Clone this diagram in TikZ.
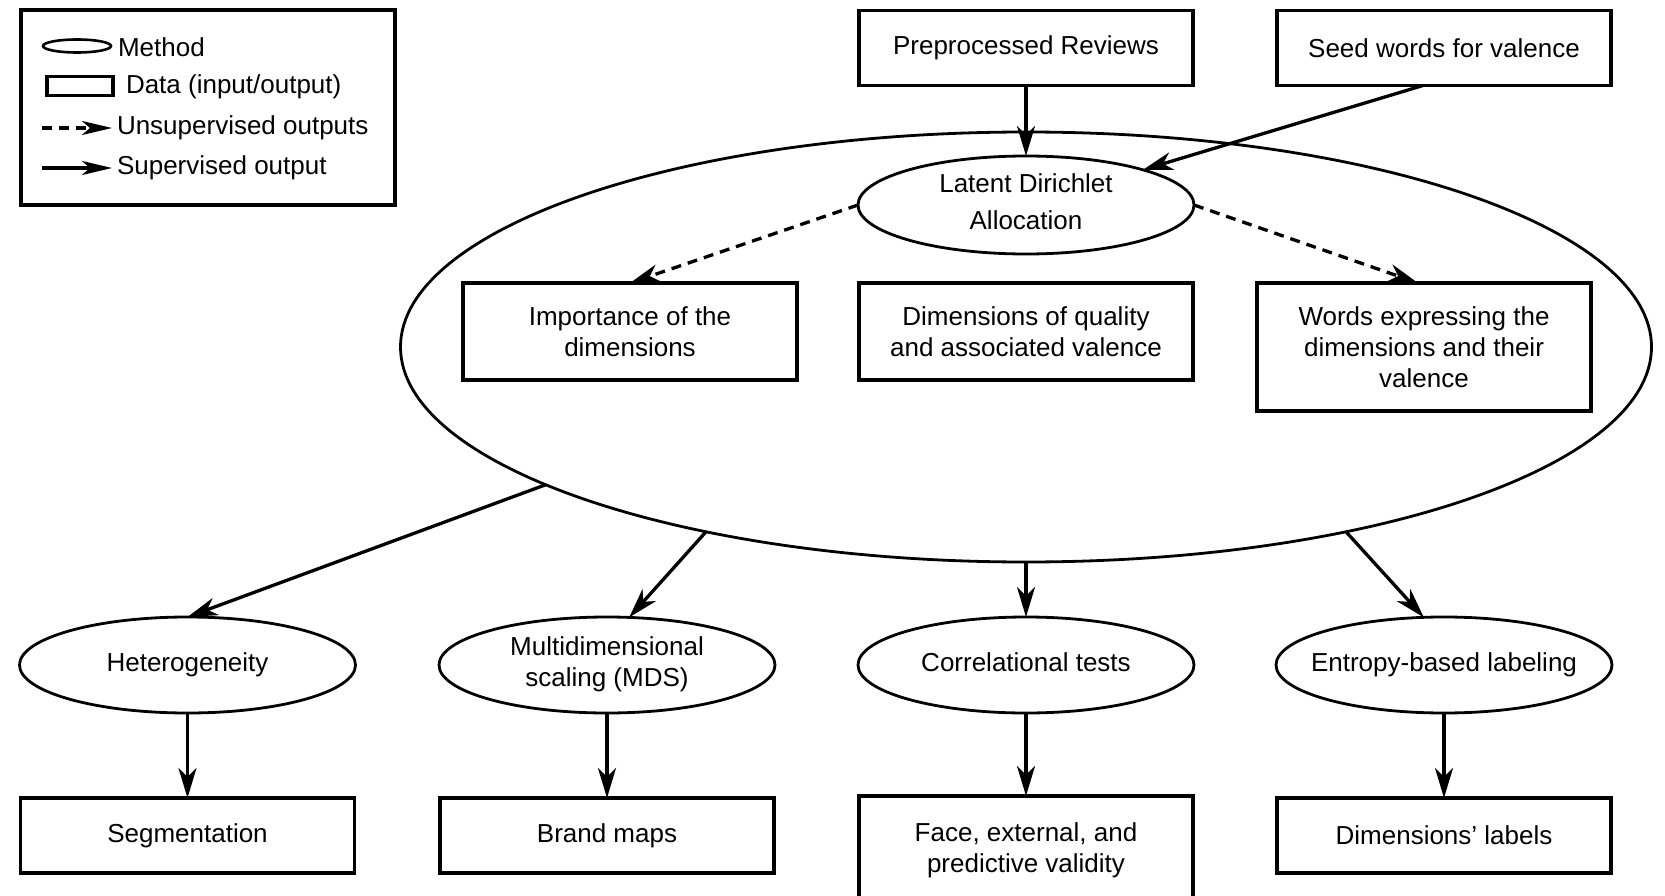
\documentclass[tikz,border=0pt]{standalone}
\usepackage{fontspec}
\setmainfont{Liberation Sans}
\usetikzlibrary{shapes.geometric,arrows.meta}
\newcommand{\ztxt}[1]{\makebox[0pt][c]{\begin{tabular}{@{}c@{}}#1\end{tabular}}}
\begin{document}
\begin{tikzpicture}[x=1pt,y=-1pt,
  every node/.style={font=\fontsize{26}{31}\selectfont, inner sep=0pt, outer sep=0pt},
  databox/.style={draw, line width=3.8pt, rectangle, minimum width=334pt, align=center},
  meth/.style={draw, line width=2.8pt, ellipse, minimum width=336pt, minimum height=96pt},
  sup/.style={line width=3.3pt, -{Stealth[length=30pt,width=18pt,inset=9pt]}},
  unsup/.style={sup, dash pattern=on 10pt off 7pt},
  legtext/.style={anchor=west},
]
\useasboundingbox (0,0) rectangle (1665,896);
\clip (0,0) rectangle (1665,896);

% big ellipse
\node[draw, line width=2.8pt, ellipse, minimum width=1251pt, minimum height=430pt] (big) at (1026,347) {};

% legend
\node[draw, line width=3.8pt, rectangle, minimum width=374pt, minimum height=195pt] (legend) at (208,107.5) {};
\node[draw, line width=2.6pt, ellipse, minimum width=68pt, minimum height=13pt] (legell) at (77,46) {};
\node[legtext] (legm) at (118,47) {Method};
\node[draw, line width=3.8pt, rectangle, minimum width=66pt, minimum height=19pt] (legrect) at (80,86) {};
\node[legtext] (legd) at (126,87) {Data (input/output)};
\coordinate (u1) at (42,128);
\coordinate (u2) at (112,128);
\draw[unsup, -{Stealth[length=30pt,width=14pt,inset=8pt]}] (u1) -- (u2);
\node[legtext] (legu) at (117,128) {Unsupervised outputs};
\coordinate (s1) at (42,168);
\coordinate (s2) at (112,168);
\draw[sup, -{Stealth[length=30pt,width=14pt,inset=8pt]}] (s1) -- (s2);
\node[legtext] (legs) at (117,168) {Supervised output};

% top inputs
\node[databox, minimum height=75pt] (pre) at (1026,48) {Preprocessed Reviews};
\node[databox, minimum height=75pt] (seed) at (1444,48) {Seed words for valence};

% LDA
\node[meth, minimum height=98pt] (lda) at (1026,205) {\ztxt{Latent Dirichlet\\[6pt]Allocation}};

% LDA outputs
\node[databox, minimum height=97pt] (imp) at (630,331.5) {Importance of the\\dimensions};
\node[databox, minimum height=97pt] (dim) at (1026,331.5) {Dimensions of quality\\and associated valence};
\node[databox, minimum height=128pt] (words) at (1424,347) {Words expressing the\\dimensions and their\\valence};

% methods row
\node[meth] (het) at (187.5,665) {\ztxt{Heterogeneity}};
\node[meth] (mds) at (607,665) {\ztxt{Multidimensional\\scaling (MDS)}};
\node[meth] (corr) at (1026,665) {\ztxt{Correlational tests}};
\node[meth] (ent) at (1444,665) {\ztxt{Entropy-based labeling}};

% outputs row
\node[databox, minimum height=75pt] (seg) at (187.5,835.5) {Segmentation};
\node[databox, minimum height=75pt] (brand) at (607,835.5) {Brand maps};
\node[databox, minimum height=108pt] (face) at (1026,850) {Face, external, and\\predictive validity};
\node[databox, minimum height=75pt] (lab) at (1444,835.5) {Dimensions' labels};

% connectors
\draw[sup] (pre.south) -- (lda.north);
\draw[sup] ([xshift=-21pt]seed.south) -- (lda);
\draw[unsup] (lda.west) -- (imp.north);
\draw[unsup] (lda.east) -- ([xshift=-6pt]words.north);

\draw[sup] (big.196.75) -- (het.north);
\draw[sup] (big.210.1) -- (mds.65);
\draw[sup] (big.south) -- (corr.north);
\draw[sup] (big.330.6) -- (ent.113);

\draw[sup] (het.south) -- (seg.north);
\draw[sup] (mds.south) -- (brand.north);
\draw[sup] (corr.south) -- (face.north);
\draw[sup] (ent.south) -- (lab.north);
\end{tikzpicture}
\end{document}
